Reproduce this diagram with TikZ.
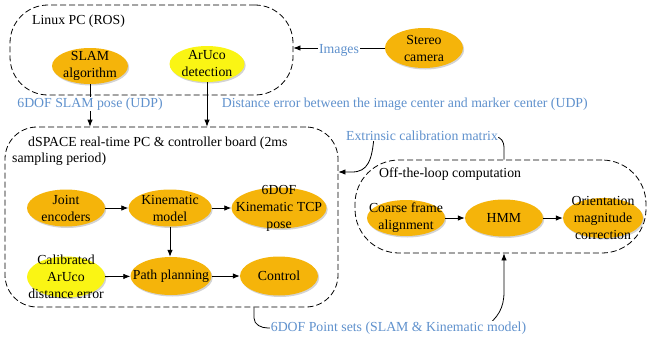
\documentclass[tikz,border=0pt]{standalone}
\usepackage{fontspec}
\setmainfont{Liberation Serif}
\usetikzlibrary{shapes.geometric,arrows.meta,shadows}
\definecolor{gold}{RGB}{245,180,10}
\definecolor{yel}{RGB}{250,245,20}
\definecolor{lbl}{RGB}{95,145,205}
\newcommand{\mybub}[7]{%
  \node[bub, fill=#2, minimum width=#5pt, minimum height=#6pt] (#1) at (#3,#4) {};
  \node[bubtxt] (#1t) at (#1.center) {#7};}
\begin{document}
\begin{tikzpicture}[x=1pt,y=-1pt,
  bub/.style={ellipse, inner sep=0, draw=none,
    drop shadow={opacity=0.35, shadow xshift=1.2pt, shadow yshift=-1.5pt}},
  bubtxt/.style={align=center, inner sep=0, font=\fontsize{13.8}{17}\selectfont},
  grp/.style={draw, dash pattern=on 6pt off 3pt, line width=0.8pt, inner sep=0},
  lab/.style={text=lbl, fill=white, inner sep=0.6pt, font=\fontsize{13.8}{17}\selectfont},
  ttl/.style={inner sep=0, font=\fontsize{13.8}{17}\selectfont, anchor=west},
  conn/.style={line width=0.8pt},
  arr/.style={conn, -{Latex[length=7pt,width=5.5pt]}}
]
\useasboundingbox (0,0) rectangle (649,343);

% group boxes
\node[grp, rounded corners=38pt, minimum width=283pt, minimum height=90pt] (linux) at (151.5,50) {};
\node[grp, rounded corners=32pt, minimum width=333pt, minimum height=180pt] (dspace) at (171.5,217) {};
\node[grp, rounded corners=44pt, minimum width=291pt, minimum height=93pt] (off) at (500.5,206.5) {};

% titles
\node[ttl] (linuxt) at (32,21) {Linux PC (ROS)};
\node[ttl] (dspacet1) at (28,143) {dSPACE real-time PC \& controller board (2ms};
\node[ttl] (dspacet2) at (12,159) {sampling period)};
\node[ttl] (offt) at (379,174) {Off-the-loop computation};

% bubbles
\mybub{slam}{gold}{90}{66}{76}{36}{SLAM\\algorithm}
\mybub{aruco}{yel}{207}{64}{75}{36}{ArUco\\detection}
\mybub{stereo}{gold}{424}{48}{78}{40}{Stereo\\camera}
\mybub{je}{gold}{66}{208}{78}{37}{Joint\\encoders}
\mybub{km}{gold}{170}{208}{83}{37}{Kinematic\\model}
\mybub{tcp}{gold}{279}{208}{95}{41}{6DOF\\Kinematic TCP\\pose}
\mybub{cal}{yel}{66}{277}{78}{41}{Calibrated\\ArUco\\distance error}
\mybub{pp}{gold}{171}{276}{81}{38}{Path planning}
\mybub{ctrl}{gold}{279}{276}{78}{39}{Control}
\mybub{cfa}{gold}{406}{218}{78}{36}{Coarse frame\\alignment}
\mybub{hmm}{gold}{504}{218}{78}{37}{HMM}
\mybub{omc}{gold}{603}{218}{80}{40}{Orientation\\magnitude\\correction}

% connectors
\draw[arr] (slam) -- (slam |- dspace.north);
\draw[arr] (aruco) -- (aruco |- dspace.north);
\draw[arr] (stereo) -- (stereo -| linux.east);
\draw[arr] (je) -- (km);
\draw[arr] (km) -- (tcp);
\draw[arr] (km) -- (km |- pp.north);
\draw[arr] (cal) -- (pp);
\draw[arr] (pp) -- (ctrl);
\draw[arr] (cfa) -- (hmm);
\draw[arr] (hmm) -- (omc);

\coordinate (exA) at ([xshift=3.5pt]off.north);
\coordinate (exB) at (352,172);
\draw[arr] (exA) -- (504,147) to[out=90,in=0] (496,137) -- (374,137)
  .. controls (372,160) and (368,172) .. (exB) -- (dspace.east |- exB);

\coordinate (psA) at ([xshift=82.5pt]dspace.south);
\draw[arr] (psA) -- (254,318) to[out=-90,in=180] (268,328) -- (484,328)
  .. controls (498,318) and (504,308) .. (504,292) -- ([xshift=3.5pt]off.south);

% connector labels
\node[lab] (slamlab) at (90,104) {6DOF SLAM pose (UDP)};
\node[lab, anchor=west] (distlab) at (221,104) {Distance error between the image center and marker center (UDP)};
\node[lab] (imglab) at (339,50) {Images};
\node[lab] (exlab) at (422,135.5) {Extrinsic calibration matrix};
\node[lab] (pslab) at (398.5,328) {6DOF Point sets (SLAM \& Kinematic model)};
\end{tikzpicture}
\end{document}
